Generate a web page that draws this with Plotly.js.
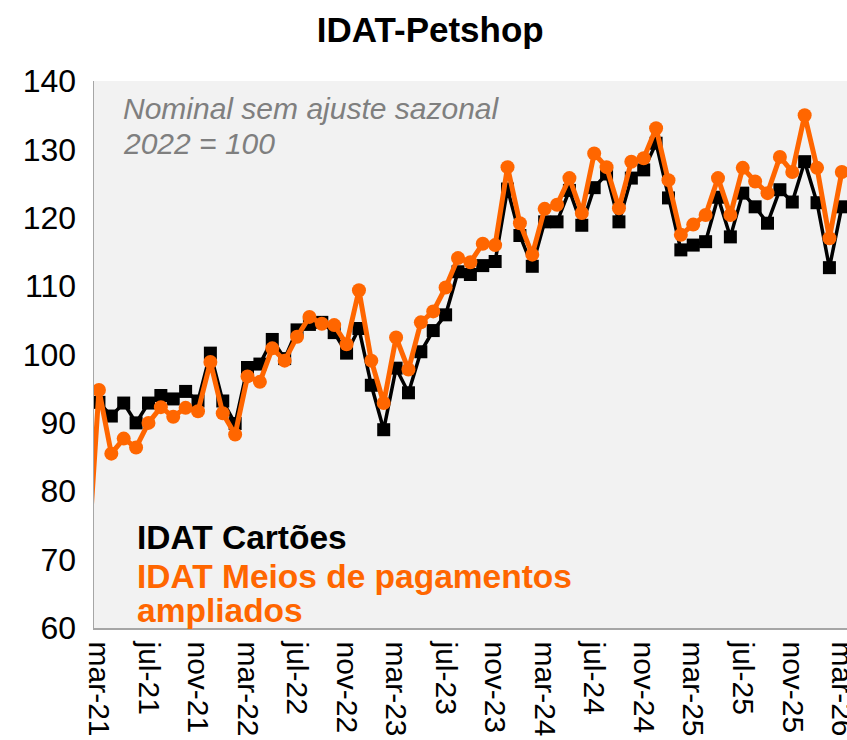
<!DOCTYPE html>
<html>
<head>
<meta charset="utf-8">
<script src="https://cdn.plot.ly/plotly-3.0.1.min.js"></script>
<style>html,body{margin:0;padding:0;background:#fff;}#chart{width:847px;height:740px;}</style>
</head>
<body>
<div id="chart"></div>
<script>
const months = ["fev-21","mar-21","abr-21","mai-21","jun-21","jul-21","ago-21","set-21","out-21","nov-21","dez-21",
"jan-22","fev-22","mar-22","abr-22","mai-22","jun-22","jul-22","ago-22","set-22","out-22","nov-22","dez-22",
"jan-23","fev-23","mar-23","abr-23","mai-23","jun-23","jul-23","ago-23","set-23","out-23","nov-23","dez-23",
"jan-24","fev-24","mar-24","abr-24","mai-24","jun-24","jul-24","ago-24","set-24","out-24","nov-24","dez-24",
"jan-25","fev-25","mar-25","abr-25","mai-25","jun-25","jul-25","ago-25","set-25","out-25","nov-25","dez-25",
"jan-26","fev-26","mar-26"];

const idatCartoes = [92.5, 93.0, 91.0, 92.9, 90.0, 92.9, 94.0, 93.5, 94.6, 93.2, 100.2,
93.2, 89.9, 98.1, 98.6, 102.2, 99.4, 103.6, 104.4, 104.7, 103.2, 100.2, 103.8,
95.5, 89.0, 98.0, 94.4, 100.4, 103.5, 105.8, 112.1, 111.7, 113.0, 113.6, 124.2,
117.4, 112.9, 119.4, 119.4, 124.0, 118.9, 124.4, 126.4, 119.4, 125.8, 127.0, 130.9,
122.9, 115.3, 116.0, 116.5, 123.0, 117.2, 123.6, 121.6, 119.2, 124.1, 122.3, 128.2,
122.2, 112.7, 121.6];

const idatAmpliados = [67, 94.8, 85.5, 87.7, 86.4, 90.0, 92.3, 90.9, 92.2, 91.7, 98.9,
91.4, 88.3, 96.8, 96.0, 100.9, 99.1, 102.6, 105.5, 104.5, 104.3, 101.5, 109.4,
99.1, 92.9, 102.5, 97.8, 104.7, 106.3, 109.8, 114.1, 113.5, 116.2, 116.0, 127.4,
119.2, 114.6, 121.3, 121.9, 125.8, 120.7, 129.4, 127.4, 121.4, 128.2, 128.7, 133.1,
125.5, 117.5, 119.0, 120.4, 125.8, 120.4, 127.3, 125.3, 123.6, 128.9, 126.7, 135.0,
127.3, 117.0, 126.7];

const tickLabels = ["mar-21","jul-21","nov-21","mar-22","jul-22","nov-22","mar-23","jul-23",
"nov-23","mar-24","jul-24","nov-24","mar-25","jul-25","nov-25","mar-26"];

const FONT = '"Liberation Sans", Arial, sans-serif';
const ORANGE = '#ff6600';

const traces = [
  {
    x: months, y: idatCartoes, type: 'scatter', mode: 'lines+markers',
    name: 'IDAT Cartões',
    line: {color: '#000000', width: 3.5},
    marker: {symbol: 'square', size: 13, color: '#000000'}
  },
  {
    x: months, y: idatAmpliados, type: 'scatter', mode: 'lines+markers',
    name: 'IDAT Meios de pagamentos ampliados',
    line: {color: ORANGE, width: 5},
    marker: {symbol: 'circle', size: 14, color: ORANGE}
  }
];

const layout = {
  width: 847, height: 740,
  margin: {l: 94, r: 0, t: 81, b: 112},
  paper_bgcolor: '#ffffff',
  plot_bgcolor: '#f2f2f2',
  showlegend: false,
  font: {family: FONT, color: '#000000'},
  title: {
    text: '<b>IDAT-Petshop</b>',
    font: {family: FONT, size: 35, color: '#000000'},
    x: 0.508, xref: 'container', xanchor: 'center',
    y: 1 - 30/740, yref: 'container', yanchor: 'middle'
  },
  xaxis: {
    type: 'category',
    range: [0.6, 61.42],
    tickmode: 'array',
    tickvals: tickLabels,
    ticktext: tickLabels,
    tickangle: 90,
    ticks: '',
    ticklabelstandoff: 6,
    tickfont: {family: FONT, size: 30, color: '#000000'},
    showgrid: false, zeroline: false,
    showline: true, linecolor: '#a6a6a6', linewidth: 1.5
  },
  yaxis: {
    range: [60, 140],
    tickmode: 'linear', tick0: 60, dtick: 10,
    ticks: '',
    ticklabelstandoff: 10,
    tickfont: {family: FONT, size: 32, color: '#000000'},
    showgrid: false, zeroline: false,
    showline: true, linecolor: '#a6a6a6', linewidth: 1.5
  },
  annotations: [
    {text: '<i>Nominal sem ajuste sazonal</i>', xref: 'paper', yref: 'paper',
     x: 0.036, y: (628-108)/547, xanchor: 'left', yanchor: 'middle', showarrow: false,
     font: {family: FONT, size: 30, color: '#7f7f7f'}},
    {text: '<i>2022 = 100</i>', xref: 'paper', yref: 'paper',
     x: 0.036, y: (628-143)/547, xanchor: 'left', yanchor: 'middle', showarrow: false,
     font: {family: FONT, size: 30, color: '#7f7f7f'}},
    {text: '<b>IDAT Cartões</b>', xref: 'paper', yref: 'paper',
     x: 0.055, y: (628-537)/547, xanchor: 'left', yanchor: 'middle', showarrow: false,
     font: {family: FONT, size: 33.5, color: '#000000'}},
    {text: '<b>IDAT Meios de pagamentos</b>', xref: 'paper', yref: 'paper',
     x: 0.055, y: (628-576)/547, xanchor: 'left', yanchor: 'middle', showarrow: false,
     font: {family: FONT, size: 33.5, color: ORANGE}},
    {text: '<b>ampliados</b>', xref: 'paper', yref: 'paper',
     x: 0.055, y: (628-610)/547, xanchor: 'left', yanchor: 'middle', showarrow: false,
     font: {family: FONT, size: 33.5, color: ORANGE}}
  ]
};

Plotly.newPlot('chart', traces, layout, {staticPlot: true, displayModeBar: false});
</script>
</body>
</html>
